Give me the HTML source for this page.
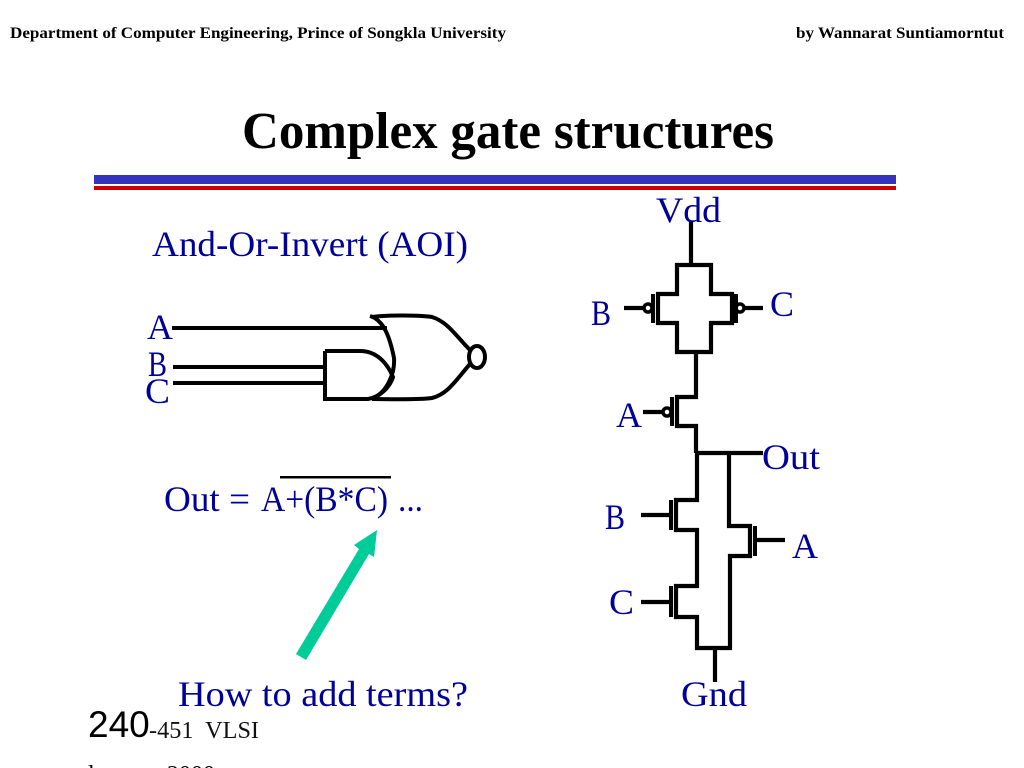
<!DOCTYPE html>
<html>
<head>
<meta charset="utf-8">
<style>
html,body{margin:0;padding:0;background:#fff;width:1024px;height:768px;overflow:hidden}
svg{display:block}
text{font-family:"Liberation Serif",serif}
.b{fill:#000099}
</style>
</head>
<body>
<svg width="1024" height="768" viewBox="0 0 1024 768" xmlns="http://www.w3.org/2000/svg">
<text x="10" y="38" font-size="15.5" font-weight="bold" textLength="496" lengthAdjust="spacingAndGlyphs">Department of Computer Engineering, Prince of Songkla University</text>
<text x="796" y="38" font-size="15.5" font-weight="bold" textLength="208" lengthAdjust="spacingAndGlyphs">by Wannarat Suntiamorntut</text>
<text x="242" y="148" font-size="52" font-weight="bold" textLength="532" lengthAdjust="spacingAndGlyphs">Complex gate structures</text>
<rect x="94" y="175" width="802" height="9" fill="#3333bb"/>
<rect x="94" y="186" width="802" height="4" fill="#cc0000"/>

<text class="b" x="152" y="256" font-size="36" textLength="316" lengthAdjust="spacingAndGlyphs">And-Or-Invert (AOI)</text>
<text class="b" x="147" y="339" font-size="36" textLength="26" lengthAdjust="spacingAndGlyphs">A</text>
<text class="b" x="148" y="376" font-size="36" textLength="19" lengthAdjust="spacingAndGlyphs">B</text>
<text class="b" x="145" y="403" font-size="36" textLength="25" lengthAdjust="spacingAndGlyphs">C</text>

<g fill="none" stroke="#000" stroke-width="4">
<path d="M172 328H387M173 367H325M173 383H325"/>
<path d="M325 351V399H368C380 397 390 387 393 377C388 365 378 351 360 351H325"/>
<path d="M370 316C384 320 390 338 394 358C395 372 388 392 372 399"/>
<path d="M372 317C385 315 420 315 432 317C448 322 456 336 470 350M470 364C456 380 448 394 432 398C420 400 385 399 372 399"/>
<ellipse cx="477" cy="357" rx="8" ry="11"/>
</g>

<text class="b" x="164" y="511" font-size="36" textLength="86" lengthAdjust="spacingAndGlyphs">Out =</text>
<text class="b" x="261" y="511" font-size="36" textLength="127" lengthAdjust="spacingAndGlyphs">A+(B*C)</text>
<text class="b" x="398" y="511" font-size="36" textLength="25" lengthAdjust="spacingAndGlyphs">...</text>
<rect x="280" y="476" width="111" height="2.5" fill="#000"/>
<path d="M296 654L359 549L354 545L377 530L374 557L369 554L306 660Z" fill="#00cc99"/>
<text class="b" x="178" y="706" font-size="36" textLength="290" lengthAdjust="spacingAndGlyphs">How to add terms?</text>

<text x="88" y="737" font-size="37" style="font-family:'Liberation Sans',sans-serif">240</text>
<text x="149" y="738" font-size="24" fill="#111" xml:space="preserve" textLength="110" lengthAdjust="spacingAndGlyphs">-451  VLSI</text>
<text x="88" y="782" font-size="24">lecture</text>
<text x="167" y="782" font-size="24">2000</text>

<text class="b" x="656" y="222" font-size="36" textLength="65" lengthAdjust="spacingAndGlyphs">Vdd</text>
<text class="b" x="591" y="325" font-size="36" textLength="20" lengthAdjust="spacingAndGlyphs">B</text>
<text class="b" x="770" y="316" font-size="36" textLength="24" lengthAdjust="spacingAndGlyphs">C</text>
<text class="b" x="616" y="427" font-size="36" textLength="26" lengthAdjust="spacingAndGlyphs">A</text>
<text class="b" x="762" y="469" font-size="36" textLength="58" lengthAdjust="spacingAndGlyphs">Out</text>
<text class="b" x="605" y="529" font-size="36" textLength="20" lengthAdjust="spacingAndGlyphs">B</text>
<text class="b" x="792" y="558" font-size="36" textLength="26" lengthAdjust="spacingAndGlyphs">A</text>
<text class="b" x="609" y="614" font-size="36" textLength="25" lengthAdjust="spacingAndGlyphs">C</text>
<text class="b" x="681" y="706" font-size="36" textLength="66" lengthAdjust="spacingAndGlyphs">Gnd</text>

<g fill="none" stroke="#000" stroke-width="4.2">
<path d="M691 222V265"/>
<path d="M677 265H711V294H732V323H711V352H677V323H658V294H677Z"/>
<path d="M653 294V323M736 294V323" stroke-width="4"/>
<circle cx="648" cy="308" r="4" stroke-width="3.5"/>
<circle cx="740" cy="308" r="4" stroke-width="3.5"/>
<path d="M624 308H644M745 308H763"/>
<path d="M696 352V397H677V426H696V453"/>
<path d="M672 397V426" stroke-width="4"/>
<circle cx="667" cy="412" r="4" stroke-width="3.5"/>
<path d="M643 412H663"/>
<path d="M696 453H763"/>
<path d="M697 453V500H676V530H697V586H676V617H697V648H730V556H750V526H729V453"/>
<path d="M671 500V530M671 586V617M755 526V556" stroke-width="4"/>
<path d="M641 515H670M641 602H670M757 540H785"/>
<path d="M715 648V682"/>
</g>
</svg>
</body>
</html>
